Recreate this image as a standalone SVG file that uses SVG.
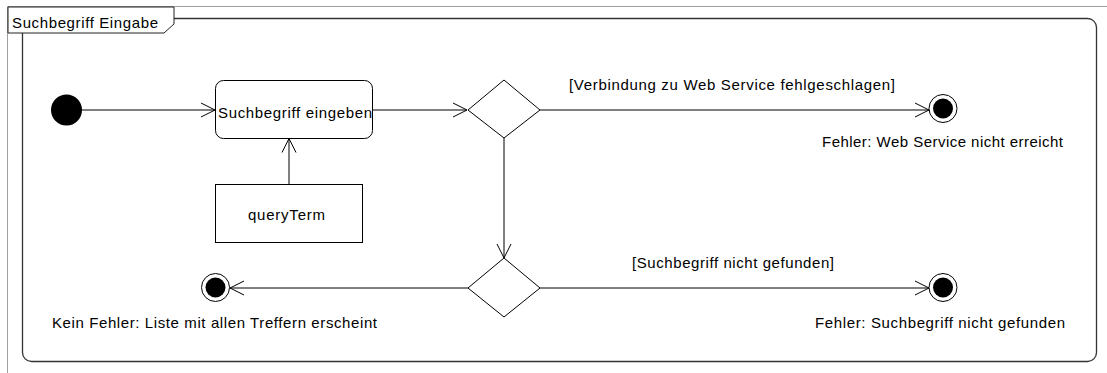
<svg xmlns="http://www.w3.org/2000/svg" width="1107" height="373" viewBox="0 0 1107 373">
<style>
text{font-family:"Liberation Sans",Arial,sans-serif;font-size:15px;fill:#000}
.ln{fill:none;stroke:#000;stroke-width:1}
.node{fill:#fff;stroke:#000;stroke-width:1}
.frame{fill:none;stroke:#333;stroke-width:1.3}
</style>
<defs>
<marker id="open" markerUnits="userSpaceOnUse" markerWidth="16" markerHeight="16" refX="15" refY="8" orient="auto" viewBox="0 0 16 16">
<path d="M1,1 L15,8 L1,15" fill="none" stroke="#000" stroke-width="1"/>
</marker>
</defs>
<rect width="1107" height="373" fill="#fff"/>
<g id="outer-frame">
<path d="M7.5,373 V6.5 H1107" fill="none" stroke="#a0a0a0" stroke-width="1"/>
</g>
<g id="activity-frame">
<rect class="frame" x="22.5" y="18.5" width="1074" height="343" rx="9" ry="9"/>
<path d="M8,7 H174 V24 L164,33 H8 Z" fill="#fff" stroke="#222" stroke-width="1"/>
<text x="12" y="28" textLength="146" lengthAdjust="spacing">Suchbegriff Eingabe</text>
</g>
<g id="connectors">
<path class="ln" d="M81,110 H215" marker-end="url(#open)"/>
<path class="ln" d="M289,184 V138.5" marker-end="url(#open)"/>
<path class="ln" d="M373,110 H467" marker-end="url(#open)"/>
<path class="ln" d="M540,110 H929" marker-end="url(#open)"/>
<path class="ln" d="M504,138 V258" marker-end="url(#open)"/>
<path class="ln" d="M468,288 H230" marker-end="url(#open)"/>
<path class="ln" d="M540,288 H929" marker-end="url(#open)"/>
</g>
<g id="guard1"><text x="569" y="90" textLength="326" lengthAdjust="spacing">[Verbindung zu Web Service fehlgeschlagen]</text></g>
<g id="guard2"><text x="632" y="268" textLength="202" lengthAdjust="spacing">[Suchbegriff nicht gefunden]</text></g>
<g id="initial"><circle cx="66.5" cy="110" r="15.5" fill="#000"/></g>
<g id="eingeben">
<rect class="node" x="215.5" y="80.5" width="157" height="58" rx="8" ry="8"/>
<text x="218" y="118" textLength="154" lengthAdjust="spacing">Suchbegriff eingeben</text>
</g>
<g id="queryTerm">
<rect class="node" x="215.5" y="184.5" width="147" height="58"/>
<text x="248" y="220" textLength="77" lengthAdjust="spacing">queryTerm</text>
</g>
<g id="decision1"><path class="node" d="M504,80 L540,110 L504,138 L468,110 Z"/></g>
<g id="decision2"><path class="node" d="M504,258 L540,288 L504,317 L468,288 Z"/></g>
<g id="final1">
<circle class="node" cx="943" cy="108.5" r="14"/>
<circle cx="943" cy="108.5" r="10" fill="#000"/>
<text x="822" y="147" textLength="241" lengthAdjust="spacing">Fehler: Web Service nicht erreicht</text>
</g>
<g id="final2">
<circle class="node" cx="215.5" cy="287.5" r="14"/>
<circle cx="215.5" cy="287.5" r="10" fill="#000"/>
<text x="52" y="328" textLength="325" lengthAdjust="spacing">Kein Fehler: Liste mit allen Treffern erscheint</text>
</g>
<g id="final3">
<circle class="node" cx="943" cy="287.5" r="14"/>
<circle cx="943" cy="287.5" r="10" fill="#000"/>
<text x="815" y="328" textLength="250" lengthAdjust="spacing">Fehler: Suchbegriff nicht gefunden</text>
</g>
</svg>
